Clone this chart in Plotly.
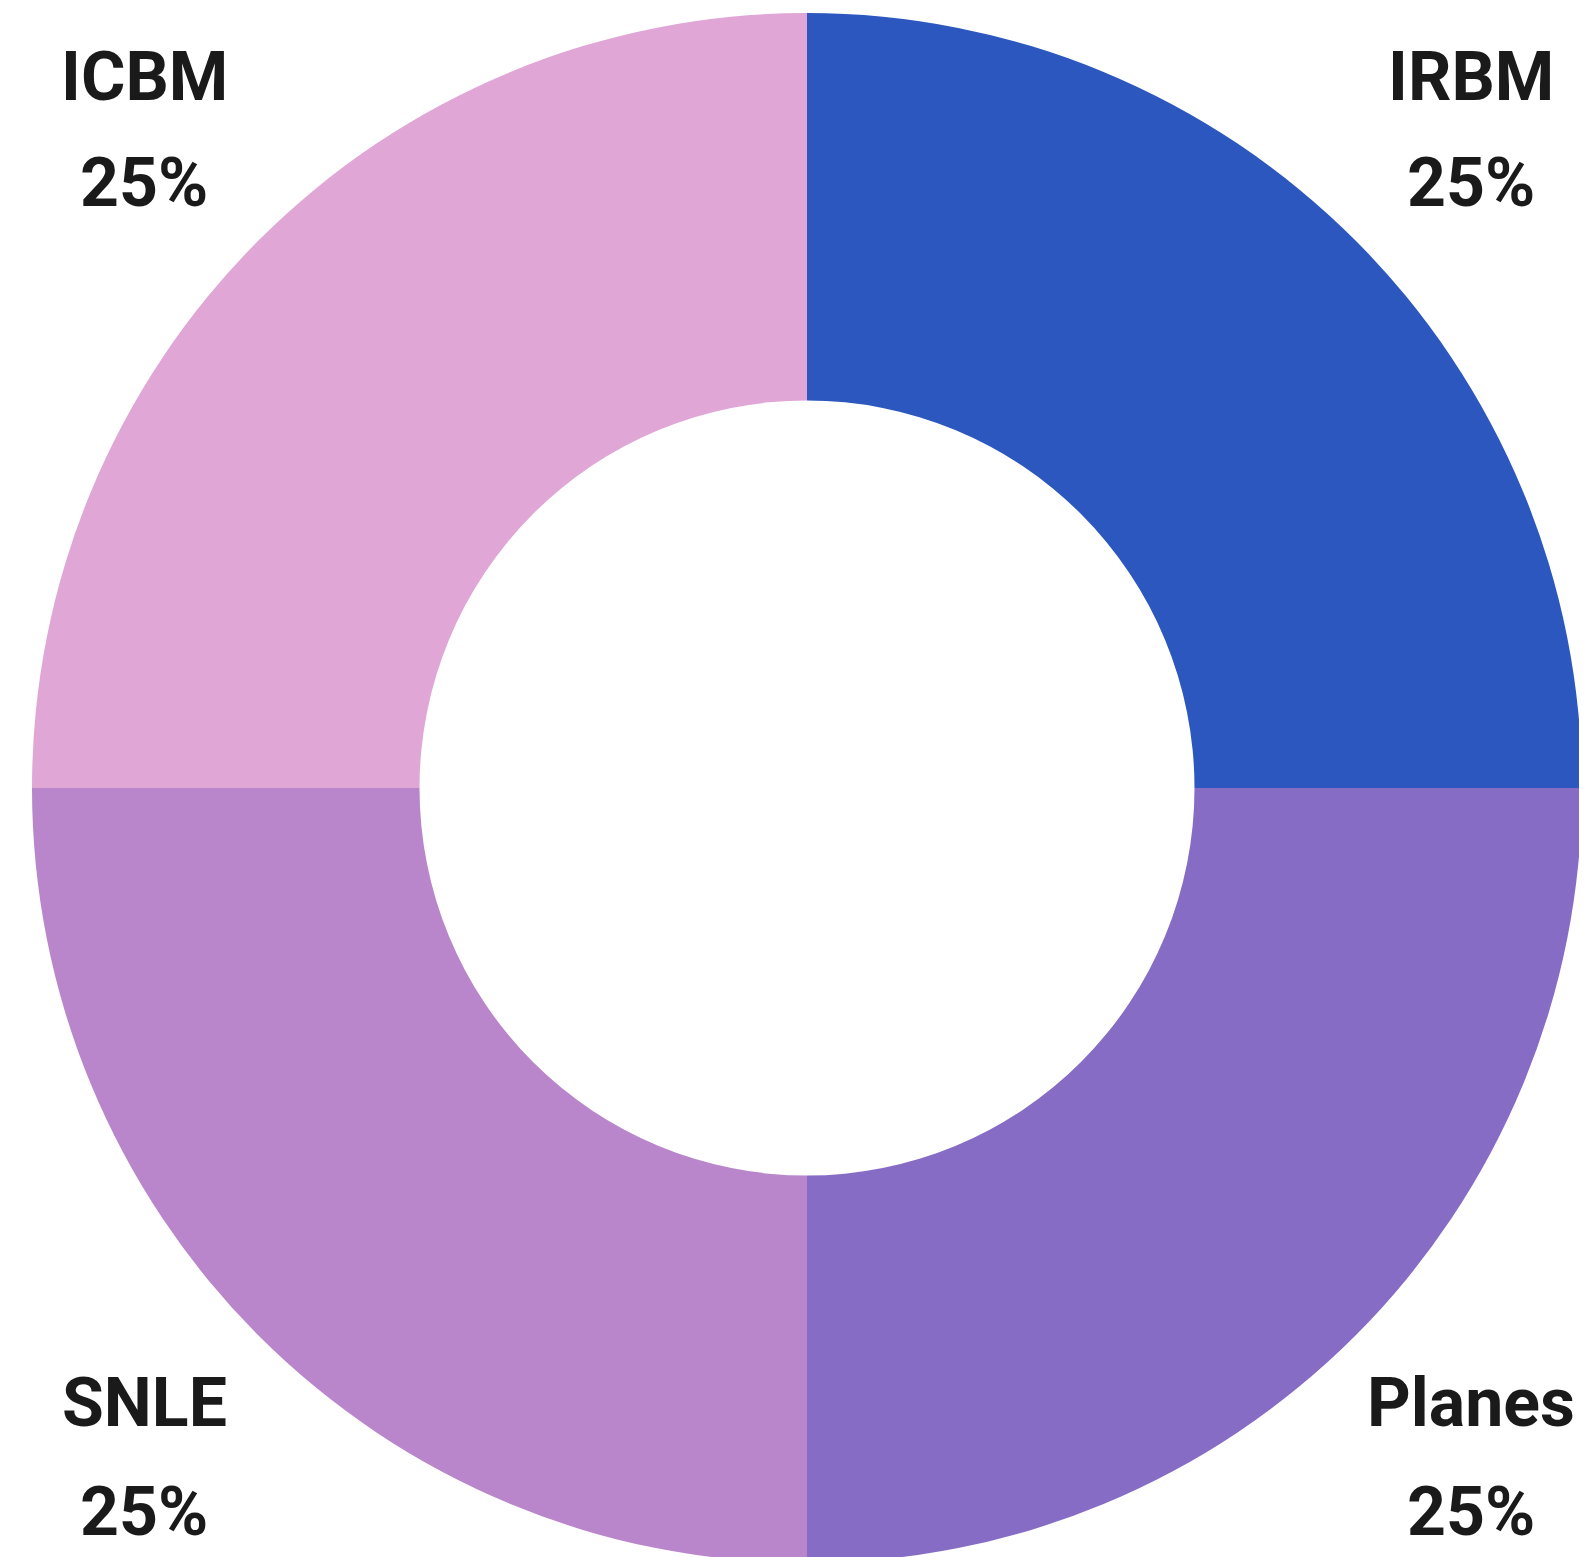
import plotly.graph_objects as go

labels = ["IRBM", "Planes", "SNLE", "ICBM"]
values = [25, 25, 25, 25]
colors = ["#2C57BE", "#876CC5", "#B986CB", "#E0A6D6"]
pct_text = ["25%", "25%", "25%", "25%"]

W, H = 1587, 1560
cx, cy, R = 799, 780, 775

fig = go.Figure(go.Pie(
    labels=labels,
    values=values,
    marker=dict(colors=colors, line=dict(width=0)),
    hole=0.5,
    sort=False,
    direction="clockwise",
    rotation=0,
    textinfo="none",
    hoverinfo="label+percent",
    showlegend=False,
    domain=dict(x=[(cx - R) / W, (cx + R) / W],
                y=[max(0, 1 - (cy + R) / H), min(1, 1 - (cy - R) / H)]),
))

FONT = "Roboto, Liberation Sans, sans-serif"
label_pos = {
    "IRBM": (1463, 69, 175),
    "Planes": (1463, 1395, 1504),
    "SNLE": (136, 1395, 1504),
    "ICBM": (136, 69, 175),
}
for lab, pct in zip(labels, pct_text):
    x, y1, y2 = label_pos[lab]
    for txt, yy in ((lab, y1), (pct, y2)):
        fig.add_annotation(
            x=x / W, y=1 - yy / H, xref="paper", yref="paper",
            text=f"<b>{txt}</b>", showarrow=False,
            xanchor="center", yanchor="middle",
            font=dict(family=FONT, size=68, color="#1a1a1a"),
        )

fig.update_layout(
    width=W, height=H,
    margin=dict(l=0, r=0, t=0, b=0),
    paper_bgcolor="white",
    plot_bgcolor="white",
)

fig.write_html("out.html")
